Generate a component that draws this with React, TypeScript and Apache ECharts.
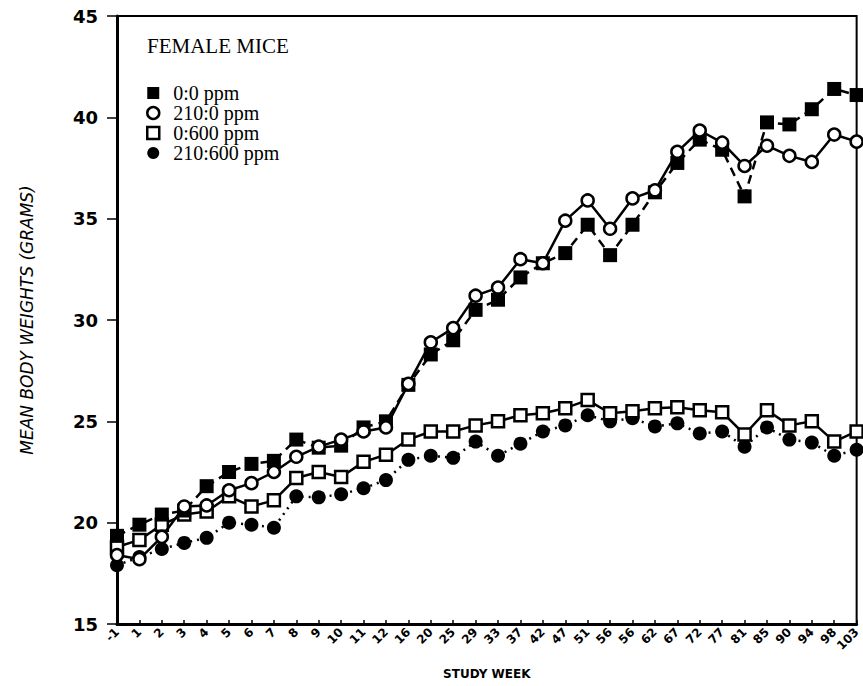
import React, { useEffect, useRef } from "react";
import * as echarts from "echarts";

const weeks = ["-1","1","2","3","4","5","6","7","8","9","10","11","12","16","20","25","29","33","37","42","47","51","56","56","62","67","72","77","81","85","90","94","98","103"];
const yTicks = [15, 20, 25, 30, 35, 40, 45];

// 0:0 ppm (filled square)
const ctrl = [19.35, 19.9, 20.4, 20.6, 21.8, 22.5, 22.9, 23.05, 24.1, 23.7, 23.8, 24.7, 25.0, 26.8, 28.3, 29.0, 30.5, 31.0, 32.1, 32.8, 33.3, 34.7, 33.2, 34.7, 36.3, 37.75, 38.9, 38.4, 36.1, 39.75, 39.65, 40.4, 41.4, 41.1];
// 210:0 ppm (open circle)
const low = [18.4, 18.2, 19.3, 20.8, 20.85, 21.6, 21.95, 22.5, 23.25, 23.75, 24.1, 24.5, 24.7, 26.85, 28.9, 29.6, 31.2, 31.6, 33.0, 32.8, 34.9, 35.9, 34.5, 36.0, 36.4, 38.3, 39.35, 38.75, 37.6, 38.6, 38.1, 37.8, 39.15, 38.8];
// 0:600 ppm (open square)
const high = [18.8, 19.15, 19.9, 20.4, 20.55, 21.3, 20.8, 21.1, 22.2, 22.5, 22.25, 23.0, 23.35, 24.1, 24.5, 24.5, 24.8, 25.0, 25.3, 25.4, 25.65, 26.05, 25.4, 25.5, 25.65, 25.7, 25.55, 25.45, 24.35, 25.55, 24.8, 25.0, 24.0, 24.5];
// 210:600 ppm (filled circle)
const both = [17.9, 18.3, 18.7, 19.0, 19.25, 20.0, 19.9, 19.75, 21.3, 21.25, 21.4, 21.7, 22.1, 23.1, 23.3, 23.2, 24.0, 23.3, 23.9, 24.5, 24.8, 25.3, 25.0, 25.15, 24.75, 24.9, 24.4, 24.5, 23.75, 24.7, 24.1, 23.95, 23.3, 23.6];

const seriesNames = ["0:0 ppm", "210:0 ppm", "0:600 ppm", "210:600 ppm"];

export default function App() {
  const ref = useRef<HTMLDivElement>(null);
  useEffect(() => {
    if (!ref.current) return;
    const chart = echarts.init(ref.current, undefined, { renderer: "svg" });
    const axisFont = "'DejaVu Sans', sans-serif";
    chart.setOption({
      animation: false,
      backgroundColor: "#ffffff",
      title: {
        text: "FEMALE MICE",
        left: 142,
        top: 30,
        textStyle: { fontFamily: "'Liberation Serif', serif", fontSize: 21, fontWeight: "normal", color: "#000" },
      },
      legend: {
        orient: "vertical",
        left: 141,
        top: 78,
        itemWidth: 12,
        itemHeight: 12,
        itemGap: 0,
        textStyle: { fontFamily: "'Liberation Serif', serif", fontSize: 20, color: "#000", padding: [0, 0, 0, 9] },
        data: [
          { name: seriesNames[0], icon: "rect", itemStyle: { color: "#000", borderWidth: 0 } },
          { name: seriesNames[1], icon: "circle", itemStyle: { color: "#fff", borderColor: "#000", borderWidth: 2.5 } },
          { name: seriesNames[2], icon: "rect", itemStyle: { color: "#fff", borderColor: "#000", borderWidth: 2.5 } },
          { name: seriesNames[3], icon: "circle", itemStyle: { color: "#000", borderWidth: 0 } },
        ],
      },
      grid: {
        left: 117,
        right: 1,
        top: 16,
        bottom: 62,
        show: true,
        borderColor: "#000",
        borderWidth: 2,
      },
      xAxis: {
        type: "category",
        data: weeks,
        boundaryGap: false,
        name: "STUDY WEEK",
        nameLocation: "middle",
        nameGap: 44,
        nameTextStyle: { fontFamily: axisFont, fontWeight: "bold", fontSize: 12, color: "#000" },
        axisLine: { lineStyle: { color: "#000", width: 3 } },
        axisTick: { inside: true, length: 4, lineStyle: { color: "#000", width: 1.5 }, interval: 0 },
        axisLabel: {
          interval: 0,
          rotate: 45,
          margin: 6,
          fontFamily: axisFont,
          fontWeight: "bold",
          fontSize: 12,
          color: "#000",
        },
        splitLine: { show: false },
      },
      yAxis: {
        type: "value",
        min: yTicks[0],
        max: yTicks[yTicks.length - 1],
        interval: 5,
        name: "MEAN BODY WEIGHTS (GRAMS)",
        nameLocation: "middle",
        nameGap: 82,
        nameTextStyle: { fontFamily: axisFont, fontStyle: "italic", fontSize: 17, color: "#000" },
        axisLine: { show: true, lineStyle: { color: "#000", width: 3 } },
        axisTick: { show: true, inside: false, length: 10, lineStyle: { color: "#000", width: 1.5 } },
        axisLabel: { margin: 19, fontFamily: axisFont, fontWeight: "bold", fontSize: 18, color: "#000" },
        splitLine: { show: false },
      },
      series: [
        {
          name: seriesNames[3],
          type: "line",
          data: both,
          symbol: "circle",
          symbolSize: 14,
          itemStyle: { color: "#000" },
          lineStyle: { color: "#000", width: 2.5, type: [2, 5] },
          z: 2,
        },
        {
          name: seriesNames[2],
          type: "line",
          data: high,
          symbol: "rect",
          symbolSize: 12,
          itemStyle: { color: "#fff", borderColor: "#000", borderWidth: 2.5 },
          lineStyle: { color: "#000", width: 2.5 },
          z: 3,
        },
        {
          name: seriesNames[0],
          type: "line",
          data: ctrl,
          symbol: "rect",
          symbolSize: 14,
          itemStyle: { color: "#000" },
          lineStyle: { color: "#000", width: 2.5, type: [9, 6] },
          z: 4,
        },
        {
          name: seriesNames[1],
          type: "line",
          data: low,
          symbol: "circle",
          symbolSize: 12,
          itemStyle: { color: "#fff", borderColor: "#000", borderWidth: 2.5 },
          lineStyle: { color: "#000", width: 2.5 },
          z: 5,
        },
      ],
    });
    return () => chart.dispose();
  }, []);
  return <div ref={ref} style={{ width: 863, height: 686, position: "absolute", left: 0, top: 0 }} />;
}
